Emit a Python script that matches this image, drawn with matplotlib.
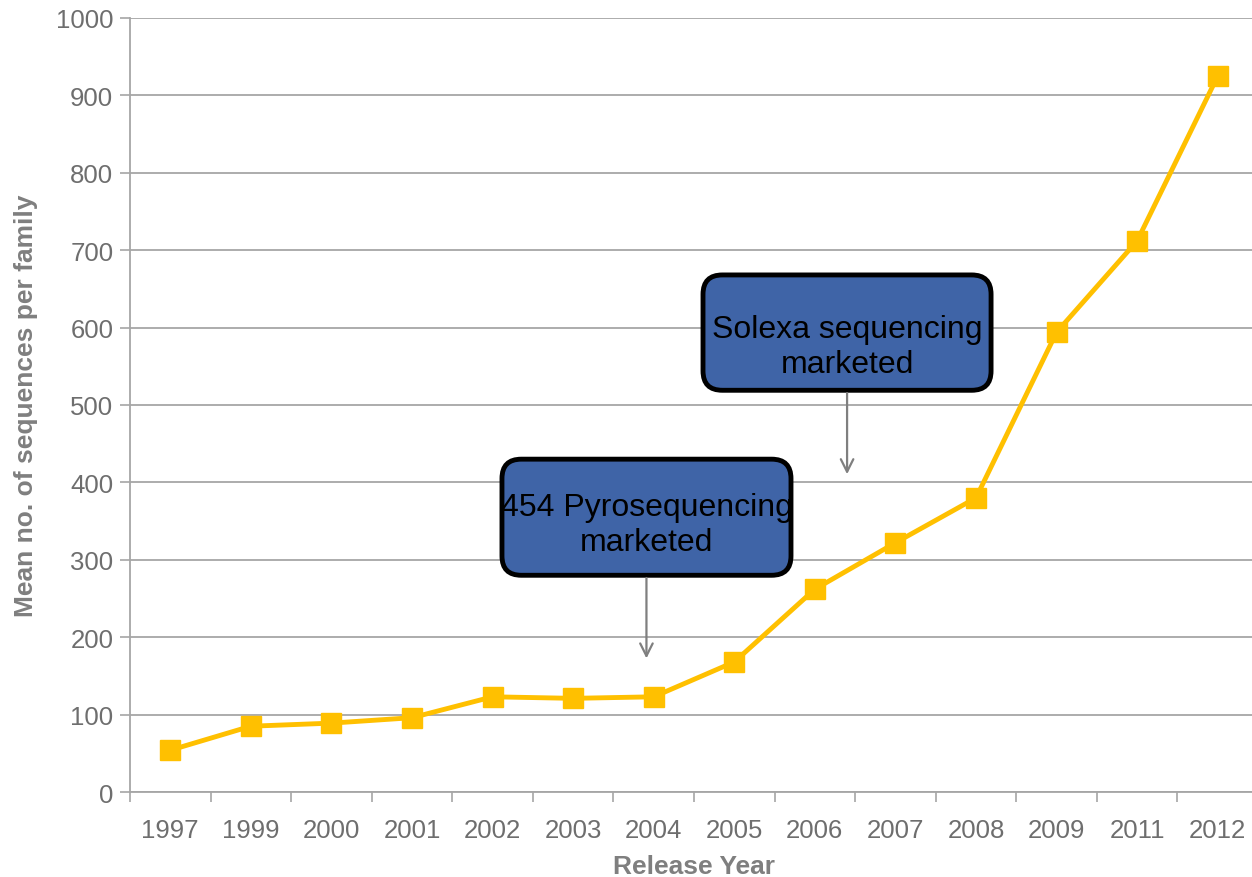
import matplotlib.pyplot as plt
from matplotlib.patches import FancyBboxPatch

plt.rcParams['font.family'] = ['Liberation Sans', 'DejaVu Sans']

years = ['1997', '1999', '2000', '2001', '2002', '2003', '2004',
         '2005', '2006', '2007', '2008', '2009', '2011', '2012']
mean_seqs = [54, 85, 89, 96, 123, 121, 123, 168, 262, 322, 380, 594, 712, 925]

grey = '#7f7f7f'
gold = '#FFC000'
box_blue = '#3F64A7'

fig = plt.figure(figsize=(12.52, 8.78), dpi=100)
ax = fig.add_axes([0.1038, 0.0968, 0.901, 0.8816])

x = list(range(len(years)))
ax.plot(x, mean_seqs, color=gold, lw=3.5, marker='s', markersize=14, zorder=3)

ax.set_xlim(-0.5, len(years) - 0.5)
ax.set_ylim(0, 1000)
ax.set_yticks(range(0, 1001, 100))
ax.set_xticks(x)
ax.set_xticklabels(years)
ax.set_xticks([i - 0.5 for i in range(len(years) + 1)], minor=True)
ax.tick_params(axis='x', which='major', length=0, pad=19, labelsize=18.5, labelcolor='#6e6e6e')
ax.tick_params(axis='x', which='minor', length=7, width=1.2, color='#a6a6a6', direction='out')
ax.tick_params(axis='y', length=7, width=1.2, color='#a6a6a6', pad=5, labelsize=18.5, labelcolor='#6e6e6e')

ax.grid(axis='y', color='#a6a6a6', lw=1.3, zorder=0)
ax.set_axisbelow(True)
for s in ['top', 'right']:
    ax.spines[s].set_visible(False)
for s in ['left', 'bottom']:
    ax.spines[s].set_color('#a6a6a6')
    ax.spines[s].set_linewidth(1.3)

ax.set_xlabel('Release Year', fontsize=19, fontweight='bold', color=grey, labelpad=8)
ax.set_ylabel('Mean no. of sequences per family', fontsize=19, fontweight='bold',
              color=grey, labelpad=13)

# callout boxes (x in category units, y in data units)
callouts = [
    ((4.117, 280), 3.587, 150, '454 Pyrosequencing\nmarketed', 5.91, 345, (5.91, 280), (5.91, 169)),
    ((6.612, 519), 3.575, 149, 'Solexa sequencing\nmarketed', 8.40, 575, (8.40, 519), (8.40, 407)),
]
for (x0, y0), w, h, txt, tx, ty, a0, a1 in callouts:
    box = FancyBboxPatch((x0, y0), w, h, boxstyle='round,pad=0,rounding_size=0.24',
                         mutation_aspect=104, facecolor=box_blue, edgecolor='black',
                         lw=3.5, zorder=4)
    ax.add_patch(box)
    ax.text(tx, ty, txt, ha='center', va='center', fontsize=23, color='black',
            linespacing=1.22, zorder=5)
    ax.annotate('', xy=a1, xytext=a0,
                arrowprops=dict(arrowstyle='->,head_length=0.9,head_width=0.45',
                                color=grey, lw=1.6), zorder=4)

fig.savefig('out.png', dpi=100)
